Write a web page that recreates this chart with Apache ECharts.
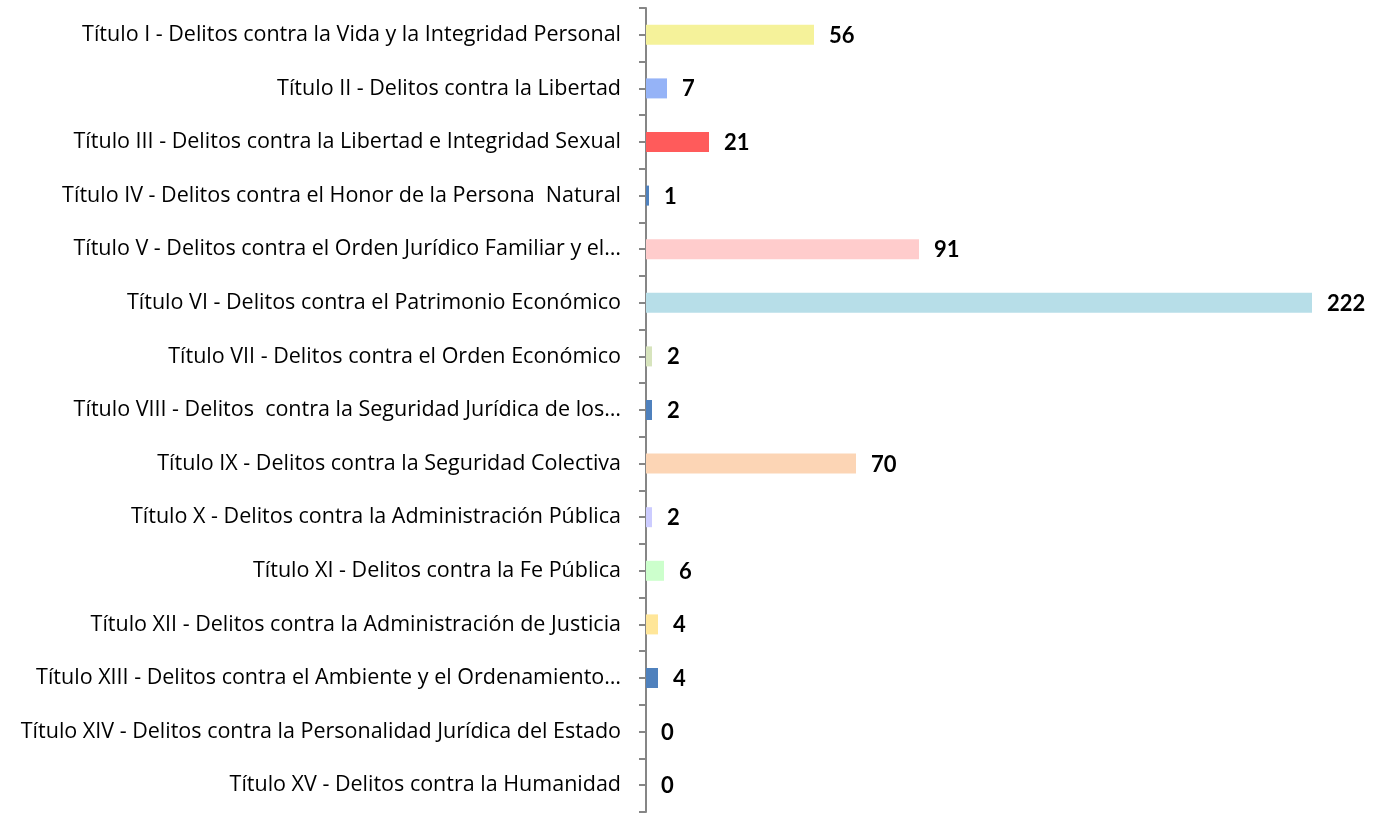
<!DOCTYPE html>
<html><head><meta charset="utf-8">
<script src="https://cdn.jsdelivr.net/npm/echarts@6/dist/echarts.min.js"></script>
<style>html,body{margin:0;padding:0;background:#fff}#c{width:1374px;height:814px}</style>
</head><body><div id="c"></div>
<script>
const categories = [
  "Título I - Delitos contra la Vida y la Integridad Personal",
  "Título II - Delitos contra la Libertad",
  "Título III - Delitos contra la Libertad e Integridad Sexual",
  "Título IV - Delitos contra el Honor de la Persona  Natural",
  "Título V - Delitos contra el Orden Jurídico Familiar y el…",
  "Título VI - Delitos contra el Patrimonio Económico",
  "Título VII - Delitos contra el Orden Económico",
  "Título VIII - Delitos  contra la Seguridad Jurídica de los…",
  "Título IX - Delitos contra la Seguridad Colectiva",
  "Título X - Delitos contra la Administración Pública",
  "Título XI - Delitos contra la Fe Pública",
  "Título XII - Delitos contra la Administración de Justicia",
  "Título XIII - Delitos contra el Ambiente y el Ordenamiento…",
  "Título XIV - Delitos contra la Personalidad Jurídica del Estado",
  "Título XV - Delitos contra la Humanidad"
];
const values = [56, 7, 21, 1, 91, 222, 2, 2, 70, 2, 6, 4, 4, 0, 0];
const colors = ["#F5F29A", "#95B3F7", "#FF5B5B", "#4F81BD", "#FFCCCC", "#B7DEE8", "#D7E4BD", "#4F81BD", "#FCD5B5", "#CCCCFF", "#CCFFCC", "#FFE699", "#4F81BD", "#4F81BD", "#4F81BD"];
const halfSlots = Array.from({length: categories.length * 2}, (_, i) => String(i));

const chart = echarts.init(document.getElementById('c'), null, {renderer: 'canvas'});
chart.setOption({
  animation: false,
  grid: {left: 646, right: 8, top: 8, bottom: 2, containLabel: false},
  xAxis: {type: 'value', min: 0, max: 240, show: false},
  yAxis: [{
    type: 'category', data: categories, inverse: true,
    axisLine: {show: true, lineStyle: {color: '#868686', width: 2}},
    axisTick: {show: false},
    axisLabel: {color: '#000', fontFamily: 'Open Sans', fontSize: 21.5, margin: 25}
  }, {
    type: 'category', data: halfSlots, inverse: true, position: 'left',
    axisLine: {show: false},
    axisTick: {show: true, length: 7, lineStyle: {color: '#868686', width: 2}},
    axisLabel: {show: false}
  }],
  series: [{
    type: 'bar', yAxisIndex: 0, barWidth: 20,
    data: values.map((v, i) => ({value: v, itemStyle: {color: colors[i]}})),
    label: {show: true, position: 'right', distance: 15, color: '#000', fontFamily: 'Lato', fontWeight: 'bold', fontSize: 22, offset: [0, 1]}
  }]
});
</script></body></html>
